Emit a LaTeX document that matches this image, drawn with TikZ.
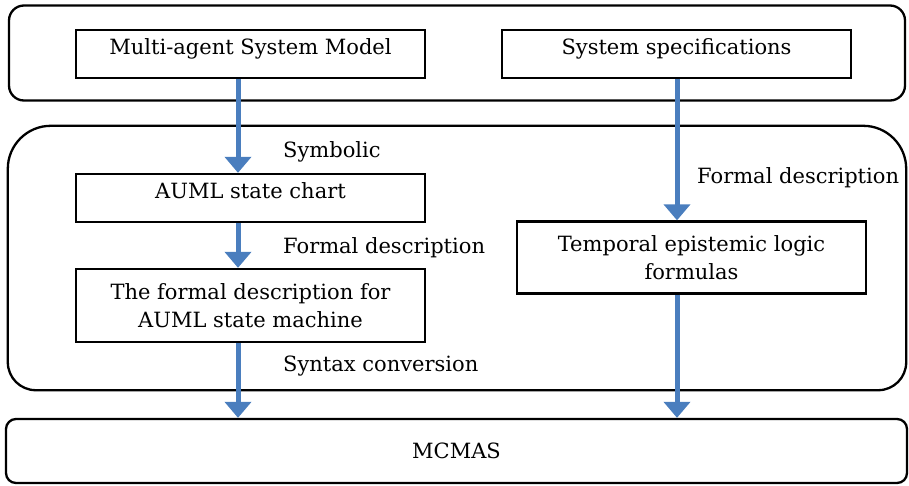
\documentclass[tikz,border=0pt]{standalone}
\usepackage{fontspec}
\setmainfont{DejaVu Serif}
\usetikzlibrary{arrows.meta,calc}
\definecolor{arrblue}{RGB}{74,126,190}
\begin{document}
\begin{tikzpicture}[x=1pt,y=-1pt,
  container/.style={draw=black,line width=2.3pt,rounded corners=#1,minimum width=0pt,minimum height=0pt,inner sep=0pt},
  framestyle/.style={draw=black,line width=2.3pt},
  stepbox/.style={draw=black,line width=2.3pt,align=center,inner sep=0pt,font=\fontsize{21}{28}\selectfont},
  onebox/.style={stepbox,text height=24pt,text depth=24pt,minimum width=349pt},
  lbl/.style={anchor=west,inner sep=0pt,font=\fontsize{21}{28}\selectfont},
  arr/.style={draw=arrblue,line width=5pt,-{Triangle[width=26pt,length=16pt]}}]
\useasboundingbox (0,0) rectangle (909,485);
% containers
\node[container=15pt,minimum width=896pt,minimum height=95pt] (top) at (457,53) {};
\node[inner sep=0pt,minimum width=898pt,minimum height=264pt] (mid) at (457,258) {};
\draw[framestyle] (mid.west) [rounded corners=43pt] -- (mid.north west) -- (mid.north east) -- (mid.east)
  [rounded corners=28pt] -- (mid.south east) -- (mid.south west) -- cycle;
\node[container=10pt,minimum width=901pt,minimum height=64pt,font=\fontsize{21}{28}\selectfont] (mcmas) at (456.5,451) {MCMAS};
% boxes
\node[onebox] (mas) at (250.5,54) {Multi-agent System Model};
\node[onebox] (spec) at (676.5,54) {System specifications};
\node[onebox] (auml) at (250.5,198) {AUML state chart};
\node[stepbox,minimum width=349pt,minimum height=73pt] (formal) at (250.5,305.5) {The formal description for\\AUML state machine};
\node[stepbox,minimum width=349pt,minimum height=72pt] (temporal) at (691.5,257.5) {Temporal epistemic logic\\formulas};
% arrow columns
\coordinate (ax) at (238,0);
\coordinate (bx) at (677,0);
\draw[arr] (mas.south -| ax) -- (auml.north -| ax);
\draw[arr] (auml.south -| ax) -- (formal.north -| ax);
\draw[arr] (formal.south -| ax) -- (mcmas.north -| ax);
\draw[arr] (spec.south -| bx) -- (temporal.north -| bx);
\draw[arr] (temporal.south -| bx) -- (mcmas.north -| bx);
% labels
\node[lbl] (l1) at (283,152) {Symbolic};
\node[lbl] (l2) at (283,248) {Formal description};
\node[lbl] (l3) at (283,366) {Syntax conversion};
\node[lbl] (l4) at (697,178) {Formal description};
\end{tikzpicture}
\end{document}
